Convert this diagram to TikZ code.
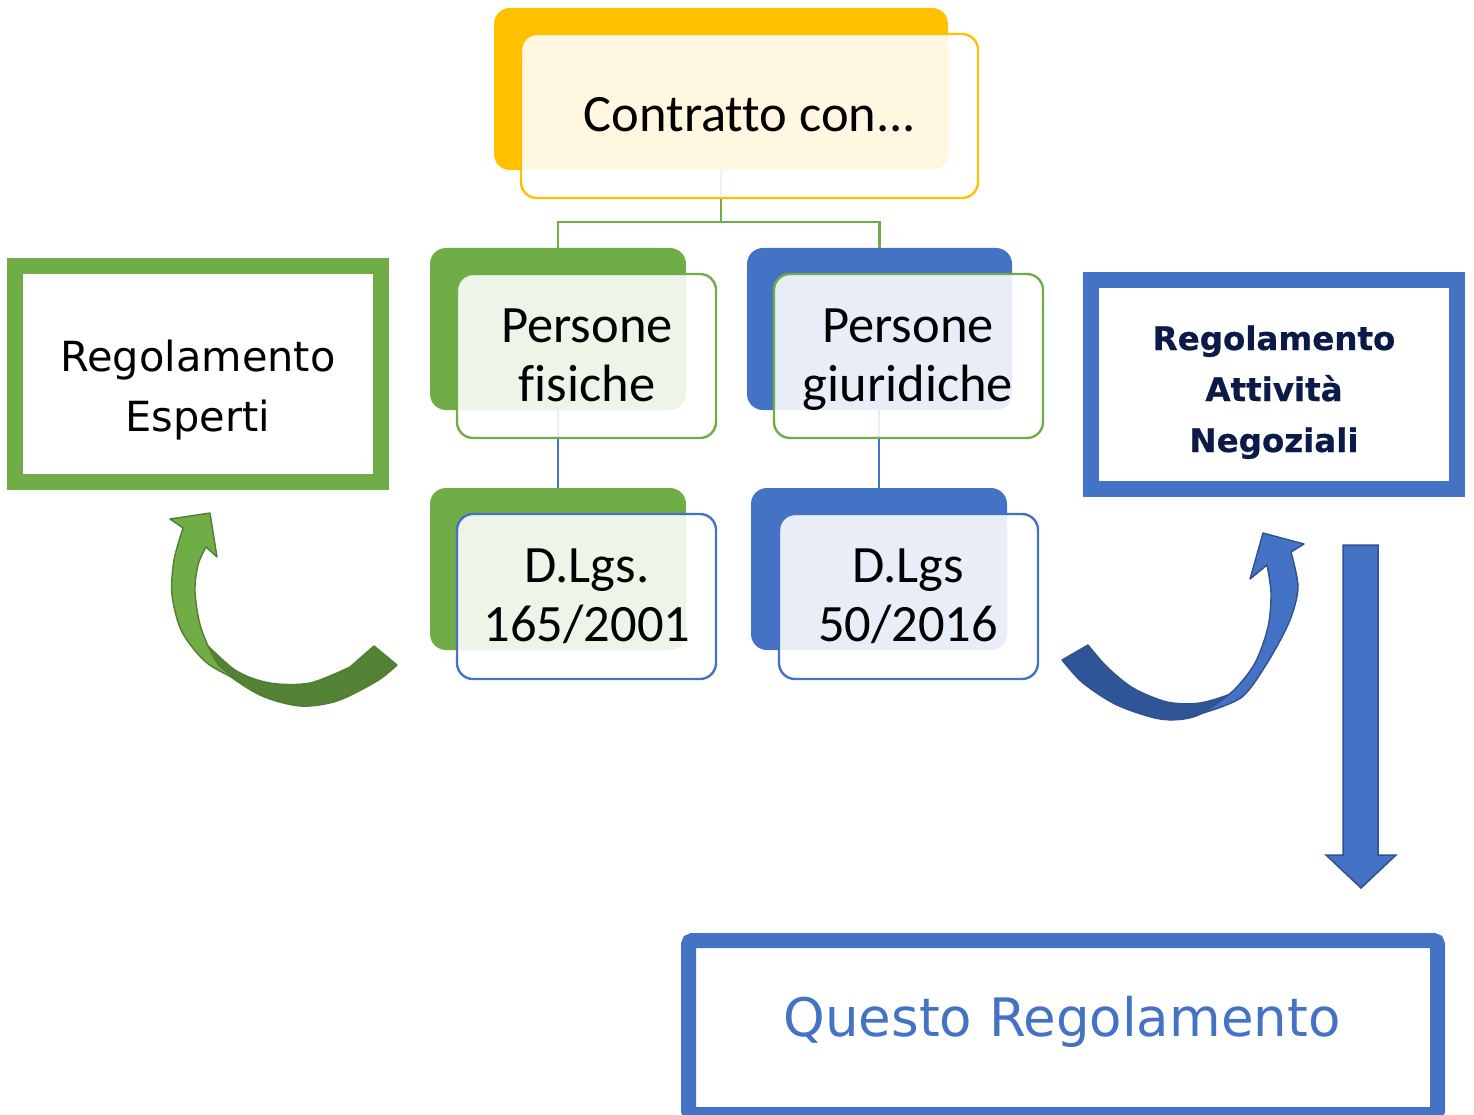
\documentclass[tikz,border=0pt]{standalone}
\usepackage{fontspec}
\setmainfont[Ligatures=NoCommon]{Carlito}
\newfontfamily\dvs{DejaVu Sans}
\newfontfamily\dvsb[FakeBold=0.6]{DejaVu Sans Bold}
\definecolor{gold}{HTML}{FFC000}
\definecolor{grn}{HTML}{70AD47}
\definecolor{dgrn}{HTML}{548235}
\definecolor{grnline}{HTML}{507E32}
\definecolor{blu}{HTML}{4472C4}
\definecolor{dblu}{HTML}{2F5597}
\definecolor{bluline}{HTML}{2F528F}
\definecolor{navy}{HTML}{0B1A48}
\begin{document}
\begin{tikzpicture}[x=1pt,y=-1pt,
  backbox/.style={rectangle, rounded corners=16pt, draw=none, inner sep=0pt},
  frontbox/.style={rectangle, rounded corners=16pt, line width=2.4pt, fill=white, fill opacity=0.88, inner sep=0pt},
  lbl/.style={font=\fontsize{52.5}{58.5}\selectfont, align=center, anchor=base, inner sep=0pt},
  conn/.style={line width=2.4pt},
  regbox/.style={rectangle, inner sep=0pt, fill=white},
  curvearrow/.style={line width=1.4pt, line join=round}]
\useasboundingbox (0,0) rectangle (1474,1115);

% top
\node[backbox, fill=gold, minimum width=454pt, minimum height=162pt] (cb) at (721,89) {};
% level 1 back boxes
\node[backbox, fill=grn, minimum width=256pt, minimum height=162pt] (pfb) at (558,329) {};
\node[backbox, fill=blu, minimum width=265pt, minimum height=162pt] (pgb) at (879.5,329) {};
% level 2 back boxes
\node[backbox, fill=grn, minimum width=256pt, minimum height=162pt] (d1b) at (558,569) {};
\node[backbox, fill=blu, minimum width=256pt, minimum height=162pt] (d2b) at (879,569) {};

% connectors
\coordinate (j) at (721,222);
\draw[conn, grn] (cb.south) -- (j) -| (pfb.north);
\draw[conn, grn] (j) -| (pgb.north);
\draw[conn, blu] (pfb.south) -- (d1b.north);
\draw[conn, blu] (pgb.south -| d2b.north) -- (d2b.north);

% front boxes
\node[frontbox, draw=gold, minimum width=457pt, minimum height=164pt] (cf) at (749.5,116) {};
\node[frontbox, draw=grn, minimum width=259pt, minimum height=164pt] (pff) at (586.5,356) {};
\node[frontbox, draw=grn, minimum width=269pt, minimum height=164pt] (pgf) at (908.5,356) {};
\node[frontbox, draw=blu, minimum width=259pt, minimum height=165pt] (d1f) at (586.5,596.5) {};
\node[frontbox, draw=blu, minimum width=259pt, minimum height=165pt] (d2f) at (908.5,596.5) {};

% texts (anchor base = baseline of last line)
\node[lbl] (tc) at (750,132) {Contratto con...};
\node[lbl] (tpf) at (587,401) {Persone\\fisiche};
\node[lbl] (tpg) at (908,401) {Persone\\giuridiche};
\node[lbl] (td1) at (587,641) {D.Lgs.\\165/2001};
\node[lbl] (td2) at (908,641) {D.Lgs\\50/2016};

% side boxes
\node[regbox, draw=grn, line width=16pt, minimum width=366pt, minimum height=216pt] (re) at (198,374) {};
\node[lbl, font=\dvs\fontsize{41.5}{60}\selectfont] (tre) at (198,431) {Regolamento\\Esperti};

\node[regbox, draw=blu, line width=16pt, minimum width=366pt, minimum height=209pt] (ran) at (1274,384.5) {};
\node[lbl, text=navy, font=\dvsb\fontsize{32.5}{51}\selectfont] (tran) at (1274,452) {Regolamento\\Attività\\Negoziali};

\node[regbox, draw=blu, line width=15pt, rounded corners=4pt, minimum width=749pt, minimum height=174pt] (qr) at (1063,1027.5) {};
\node[lbl, text=blu, font=\dvs\fontsize{53}{60}\selectfont] (tqr) at (1062,1036) {Questo Regolamento};

% down block arrow
\draw[fill=blu, draw=bluline, line width=1.5pt, line join=miter]
  (1343,545) -- (1378,545) -- (1378,855) -- (1396,855) -- (1361,888) -- (1326,855) -- (1343,855) -- cycle;

% green curved arrow
\draw[curvearrow, fill=dgrn, draw=grnline]
  plot[smooth] coordinates {(198,636) (220,668) (260,695) (300,706) (337,701) (377,681) (397,665)}
  -- (374,646)
  -- plot[smooth] coordinates {(350,667) (310,683) (270,683) (235,670) (198,636)} -- cycle;
\draw[curvearrow, fill=grn, draw=grnline]
  (206,547) -- (217,557) -- (210,513) -- (170,519) -- (183,528)
  -- plot[smooth] coordinates {(183,528) (174,560) (172,595) (182,632) (207,663) (242,682)}
  -- plot[smooth] coordinates {(242,682) (218,664) (201,628) (195,592) (198,565) (206,547)} -- cycle;

% blue curved arrow
\draw[curvearrow, fill=dblu, draw=bluline]
  (1062,660) -- (1088,645)
  -- plot[smooth] coordinates {(1088,645) (1107,667) (1133,688) (1167,702) (1200,703) (1235,692) (1258,676)}
  -- plot[smooth] coordinates {(1258,676) (1230,698) (1193,717) (1160,719) (1117,705) (1083,683) (1062,660)} -- cycle;
\draw[curvearrow, fill=blu, draw=bluline]
  plot[smooth] coordinates {(1203,713) (1242,697) (1269,660) (1290,620) (1298,587) (1291,552)}
  -- (1304,544) -- (1263,533) -- (1250,579) -- (1267,565)
  -- plot[smooth] coordinates {(1267,565) (1271,593) (1268,627) (1255,663) (1233,691) (1203,713)} -- cycle;
\end{tikzpicture}
\end{document}
